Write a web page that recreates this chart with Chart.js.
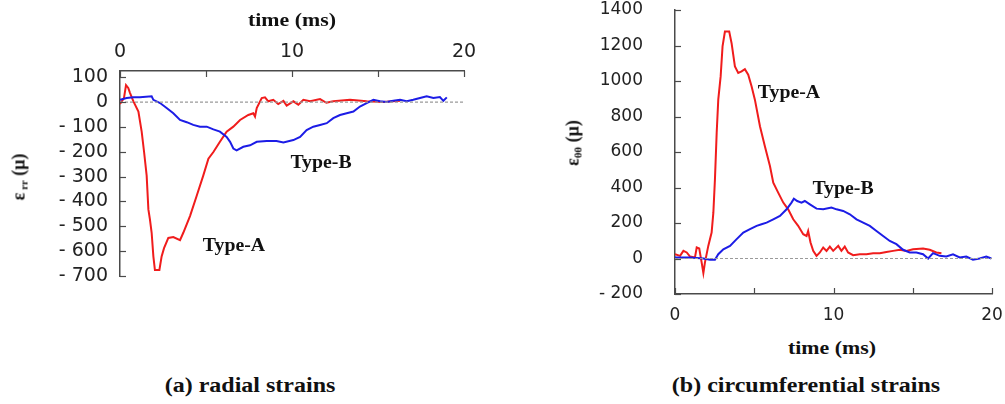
<!DOCTYPE html>
<html>
<head>
<meta charset="utf-8">
<script src="https://cdn.jsdelivr.net/npm/chart.js@4/dist/chart.umd.min.js"></script>
<style>
  html, body { margin: 0; padding: 0; background: #fff; }
  #wrap { position: relative; width: 1005px; height: 404px; overflow: hidden; background: #fff; }
  canvas { position: absolute; }
  .lbl { position: absolute; font-family: "Liberation Serif", "Times New Roman", serif; font-weight: bold; color: #111; white-space: nowrap; }
  .lbl sub { font-size: 60%; vertical-align: -0.25em; }
</style>
</head>
<body>
<div id="wrap">
  <canvas id="cA" width="500" height="300" style="left:0;top:0"></canvas>
  <canvas id="cB" width="465" height="330" style="left:540px;top:0"></canvas>

  <div class="lbl" style="left:292px;top:20px;font-size:19px;transform:translate(-50%,-50%) scaleX(1.15)">time (ms)</div>
  <div class="lbl" style="left:19px;top:177px;font-size:18px;transform:translate(-50%,-50%) rotate(-90deg)">ε<sub> rr</sub> (μ)</div>
  <div class="lbl" style="left:321px;top:162px;font-size:18px;transform:translate(-50%,-50%) scaleX(1.1)">Type-B</div>
  <div class="lbl" style="left:234px;top:245px;font-size:18px;transform:translate(-50%,-50%) scaleX(1.1)">Type-A</div>
  <div class="lbl" style="left:250px;top:385px;font-size:20px;transform:translate(-50%,-50%) scaleX(1.2)">(a) radial strains</div>

  <div class="lbl" style="left:573px;top:143px;font-size:18px;transform:translate(-50%,-50%) rotate(-90deg)">ε<sub>θθ</sub> (μ)</div>
  <div class="lbl" style="left:789px;top:92px;font-size:18px;transform:translate(-50%,-50%) scaleX(1.1)">Type-A</div>
  <div class="lbl" style="left:843px;top:188px;font-size:18px;transform:translate(-50%,-50%) scaleX(1.1)">Type-B</div>
  <div class="lbl" style="left:832px;top:348px;font-size:19px;transform:translate(-50%,-50%) scaleX(1.15)">time (ms)</div>
  <div class="lbl" style="left:806px;top:385px;font-size:20px;transform:translate(-50%,-50%) scaleX(1.2)">(b) circumferential strains</div>
</div>
<script>
// ---------- data (time in ms, strain in micro-strain) ----------
const radialA_t = [0,0.23,0.35,0.48,0.58,0.78,1.07,1.26,1.4,1.55,1.65,1.74,1.84,1.94,2.03,2.29,2.42,2.56,2.81,3.1,3.49,3.68,4.07,4.46,4.84,5.14,5.43,5.81,6.2,6.59,6.98,7.46,7.75,7.85,7.95,8.24,8.43,8.62,8.91,9.2,9.5,9.69,10.08,10.37,10.66,11.05,11.63,12.0,12.4,13.37,14.34,15.3,16.28];
const radialA_v = [-8,16,68,57,37,3,-38,-119,-201,-296,-432,-472,-526,-621,-676,-676,-621,-588,-547,-543,-556,-526,-459,-377,-296,-228,-201,-160,-119,-99,-72,-52,-45,-58,-24,16,19,3,9,-8,5,-14,3,-11,9,3,12,-3,3,9,3,0,5];

const radialB_t = [0,0.39,0.78,1.16,1.84,1.94,2.33,2.71,3.1,3.49,3.88,4.26,4.65,5.04,5.43,5.81,6.2,6.4,6.59,6.78,7.17,7.56,7.95,8.53,9.1,9.5,10.08,10.47,10.85,11.24,11.63,12.02,12.4,12.79,13.18,13.57,13.95,14.34,14.73,15.12,15.5,15.89,16.28,16.67,17.05,17.44,17.83,18.22,18.6,18.8,19.0];
const radialB_v = [9,16,19,19,23,9,-4,-24,-45,-72,-81,-92,-99,-99,-110,-119,-140,-160,-187,-194,-180,-174,-160,-157,-157,-163,-153,-140,-113,-99,-92,-85,-65,-52,-45,-38,-18,-4,9,3,0,5,9,3,9,16,23,16,20,5,19];

const circA_t = [0,0.32,0.53,0.74,0.95,1.26,1.37,1.53,1.68,1.79,1.89,2.1,2.31,2.42,2.52,2.63,2.73,2.88,3.0,3.15,3.42,3.57,3.78,3.99,4.2,4.41,4.62,4.83,5.04,5.36,5.67,5.99,6.2,6.51,6.83,7.14,7.46,7.77,8.09,8.3,8.4,8.55,8.72,8.93,9.14,9.35,9.56,9.77,9.98,10.3,10.5,10.71,10.92,11.24,11.66,12.08,12.5,12.92,13.34,13.76,14.18,14.6,15.02,15.65,16.07,16.49,16.81];
const circA_v = [24,15,43,34,11,6,62,56,-22,-82,-22,71,146,258,446,708,895,1026,1195,1279,1279,1213,1082,1045,1054,1067,1036,970,895,745,633,521,427,371,315,277,221,184,137,127,155,90,43,15,34,62,43,67,43,71,43,67,34,19,24,24,30,30,37,43,49,43,52,56,49,34,30];

const circB_t = [0,0.95,1.79,2.21,2.52,2.73,3.05,3.47,3.89,4.31,4.73,5.15,5.46,5.78,6.2,6.62,7.04,7.35,7.5,7.71,7.98,8.19,8.51,8.93,9.35,9.87,10.19,10.61,11.03,11.45,11.87,12.29,12.71,13.13,13.55,13.97,14.39,14.81,15.23,15.65,15.97,16.28,16.7,17.12,17.54,17.96,18.38,18.8,19.22,19.64,19.96];
const circB_v = [6,6,0,-7,-7,24,52,71,109,146,165,184,193,202,221,240,277,315,337,324,315,324,305,281,277,287,277,268,249,221,202,184,155,127,99,81,49,34,34,24,0,30,15,11,24,6,11,-7,0,11,0];

const zeroLine_t = [0, 20];
const zeroLine_v = [0, 0];

const xTicks = [0, 5, 10, 15, 20];
const xTickLabels = [0, 10, 20];
const yTicksRadial = [100, 0, -100, -200, -300, -400, -500, -600, -700];
const yTicksCirc = [1400, 1200, 1000, 800, 600, 400, 200, 0, -200];

// ---------- helpers ----------
const pts = (t, v) => t.map((x, i) => ({x, y: v[i]}));
const fmtY = v => v < 0 ? '- ' + Math.abs(v) : String(v);
const RED = '#f01c1c', BLUE = '#1c1ce6', AXIS = '#4a4a4a';

const inwardTicks = {
  id: 'inwardTicks',
  afterDatasetsDraw(chart) {
    const {ctx, chartArea} = chart;
    ctx.save();
    ctx.strokeStyle = AXIS; ctx.lineWidth = 1.2;
    ['x', 'y'].forEach(id => {
      const s = chart.scales[id];
      s.ticks.forEach(t => {
        const p = Math.round(s.getPixelForValue(t.value)) + 0.5;
        ctx.beginPath();
        if (s.isHorizontal()) {
          const top = s.position === 'top';
          const y0 = top ? chartArea.top : chartArea.bottom;
          ctx.moveTo(p, y0); ctx.lineTo(p, y0 + (top ? 6 : -6));
        } else {
          ctx.moveTo(chartArea.left, p); ctx.lineTo(chartArea.left + 6, p);
        }
        ctx.stroke();
      });
    });
    ctx.restore();
  }
};

function makeChart(id, cfg) {
  return new Chart(document.getElementById(id), {
    type: 'line',
    data: {
      datasets: [
        {data: pts(zeroLine_t, zeroLine_v), borderColor: '#9a9a9a', borderWidth: 1.2, borderDash: [3, 2], pointRadius: 0},
        {data: pts(cfg.bT, cfg.bV), borderColor: BLUE, borderWidth: 2, pointRadius: 0, tension: 0},
        {data: pts(cfg.aT, cfg.aV), borderColor: RED, borderWidth: 2, pointRadius: 0, tension: 0}
      ]
    },
    options: {
      responsive: false,
      devicePixelRatio: 1,
      animation: false,
      layout: {padding: cfg.padding},
      plugins: {legend: {display: false}, tooltip: {enabled: false}},
      scales: {
        x: {
          type: 'linear', position: cfg.xPos, min: 0, max: 20,
          grid: {display: false},
          border: {display: true, color: AXIS, width: 1.5},
          afterBuildTicks: s => { s.ticks = xTicks.map(v => ({value: v})); },
          afterFit: s => { s.height = cfg.xH; s.paddingLeft = 0; s.paddingRight = 0; },
          ticks: {
            autoSkip: false, maxRotation: 0, minRotation: 0, padding: cfg.xPad, color: '#222',
            font: {family: 'DejaVu Sans', size: cfg.fs},
            callback: v => xTickLabels.includes(v) ? String(v) : ''
          }
        },
        y: {
          type: 'linear', min: cfg.yMin, max: cfg.yMax,
          grid: {display: false},
          border: {display: true, color: AXIS, width: 1.5},
          afterBuildTicks: s => { s.ticks = cfg.yTicks.map(v => ({value: v})); },
          afterFit: s => { s.width = cfg.yW; s.paddingTop = 0; s.paddingBottom = 0; },
          ticks: {
            autoSkip: false, padding: cfg.yPad, color: '#222',
            font: {family: 'DejaVu Sans', size: cfg.fs},
            callback: v => fmtY(v)
          }
        }
      }
    },
    plugins: [inwardTicks]
  });
}

makeChart('cA', {
  aT: radialA_t, aV: radialA_v, bT: radialB_t, bV: radialB_v,
  xPos: 'top', xH: 71, xPad: 0, yW: 120, yPad: 4, fs: 19,
  yMin: -700, yMax: 125, yTicks: yTicksRadial,
  padding: {left: 0, top: 0, right: 36, bottom: 24}
});

makeChart('cB', {
  aT: circA_t, aV: circA_v, bT: circB_t, bV: circB_v,
  xPos: 'bottom', xH: 36, xPad: 3, yW: 135, yPad: 24, fs: 17,
  yMin: -200, yMax: 1400, yTicks: yTicksCirc,
  padding: {left: 0, top: 10, right: 13, bottom: 0}
});
</script>
</body>
</html>
